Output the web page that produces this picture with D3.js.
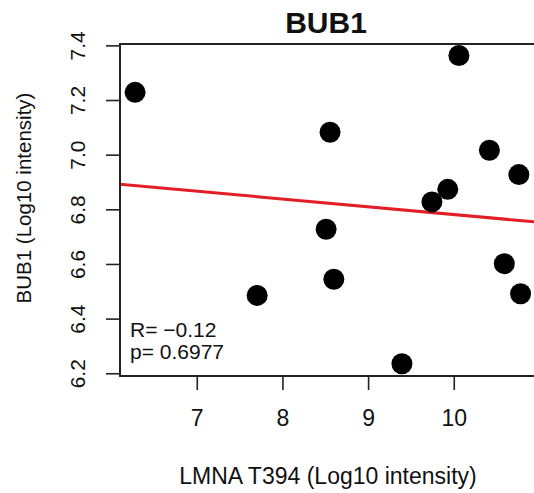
<!DOCTYPE html>
<html lang="en">
<head>
    <meta charset="UTF-8">
    <title>BUB1</title>
    <script src="https://d3js.org/d3.v7.min.js"></script>
    <style>
        body { margin: 0; background: #fff; }
        svg { display: block; font-family: "Liberation Sans", Arial, sans-serif; }
        .tick line { stroke: #222; stroke-width: 1.6; }
        .tick text { fill: #111; }
    </style>
</head>
<body>
    <svg width="534" height="493"></svg>

    <script>
        // LMNA T394 vs BUB1, both Log10 intensity
        const lmna = [6.28, 10.06, 8.556, 10.416, 10.76, 9.93, 9.745, 8.51, 8.60, 7.705, 10.59, 10.78, 9.395];
        const bub1 = [7.228, 7.363, 7.082, 7.016, 6.927, 6.873, 6.827, 6.727, 6.544, 6.485, 6.601, 6.491, 6.235];
        const xTicks = [7, 8, 9, 10];
        const yTicks = [6.2, 6.4, 6.6, 6.8, 7.0, 7.2, 7.4];
        const statLines = ["R= \u22120.12", "p= 0.6977"];

        const plotL = 120, plotR = 536, plotT = 44, plotB = 376;

        const svg = d3.select("svg");

        const x = d3.scaleLinear().domain([6.104, 10.96]).range([plotL, plotR]);
        const y = d3.scaleLinear().domain([6.19, 7.405]).range([plotB, plotT]);

        // clip for the fitted line
        svg.append("clipPath").attr("id", "plotclip")
            .append("rect")
            .attr("x", plotL).attr("y", plotT)
            .attr("width", plotR - plotL).attr("height", plotB - plotT);

        // y axis
        const yAxis = svg.append("g")
            .attr("transform", `translate(${plotL},0)`)
            .call(d3.axisLeft(y).tickValues(yTicks).tickFormat(d3.format(".1f")).tickSize(14).tickPadding(0));
        yAxis.select(".domain").remove();
        yAxis.selectAll(".tick text")
            .attr("x", null).attr("dy", null)
            .attr("font-size", 21)
            .attr("transform", "translate(-35,0) rotate(-90)")
            .attr("text-anchor", "middle");

        // x axis
        const xAxis = svg.append("g")
            .attr("transform", `translate(0,${plotB})`)
            .call(d3.axisBottom(x).tickValues(xTicks).tickFormat(d3.format("d")).tickSize(14).tickPadding(0));
        xAxis.select(".domain").remove();
        xAxis.selectAll(".tick text")
            .attr("font-size", 23)
            .attr("y", 50).attr("dy", null);

        // regression line
        const mx = d3.mean(lmna), my = d3.mean(bub1);
        const sxy = d3.sum(lmna, (v, i) => (v - mx) * (bub1[i] - my));
        const sxx = d3.sum(lmna, v => (v - mx) * (v - mx));
        const slope = sxy / sxx, icpt = my - slope * mx;
        const fit = x.domain().map(v => [v, icpt + slope * v]);

        svg.append("path")
            .datum(fit)
            .attr("clip-path", "url(#plotclip)")
            .attr("fill", "none")
            .attr("stroke", "#e41e26")
            .attr("stroke-width", 3)
            .attr("d", d3.line().x(d => x(d[0])).y(d => y(d[1])));

        // points
        svg.append("g")
            .selectAll("circle")
            .data(lmna)
            .join("circle")
            .attr("cx", d => x(d))
            .attr("cy", (d, i) => y(bub1[i]))
            .attr("r", 10.5)
            .attr("fill", "#000");

        // box
        svg.append("rect")
            .attr("x", plotL).attr("y", plotT)
            .attr("width", plotR - plotL).attr("height", plotB - plotT)
            .attr("fill", "none")
            .attr("stroke", "#222")
            .attr("stroke-width", 2);

        // stats text
        svg.append("g")
            .selectAll("text")
            .data(statLines)
            .join("text")
            .attr("x", 130)
            .attr("y", (d, i) => 337 + i * 22)
            .attr("font-size", 21)
            .attr("fill", "#111")
            .text(d => d);

        // titles
        svg.append("text")
            .attr("x", 326).attr("y", 33)
            .attr("text-anchor", "middle")
            .attr("font-size", 30)
            .attr("font-weight", "bold")
            .attr("fill", "#111")
            .text("BUB1");

        svg.append("text")
            .attr("x", 328).attr("y", 484)
            .attr("text-anchor", "middle")
            .attr("font-size", 23)
            .attr("fill", "#111")
            .text("LMNA T394 (Log10 intensity)");

        svg.append("text")
            .attr("transform", "translate(31,198) rotate(-90)")
            .attr("text-anchor", "middle")
            .attr("font-size", 20.5)
            .attr("fill", "#111")
            .text("BUB1 (Log10 intensity)");
    </script>
</body>
</html>
